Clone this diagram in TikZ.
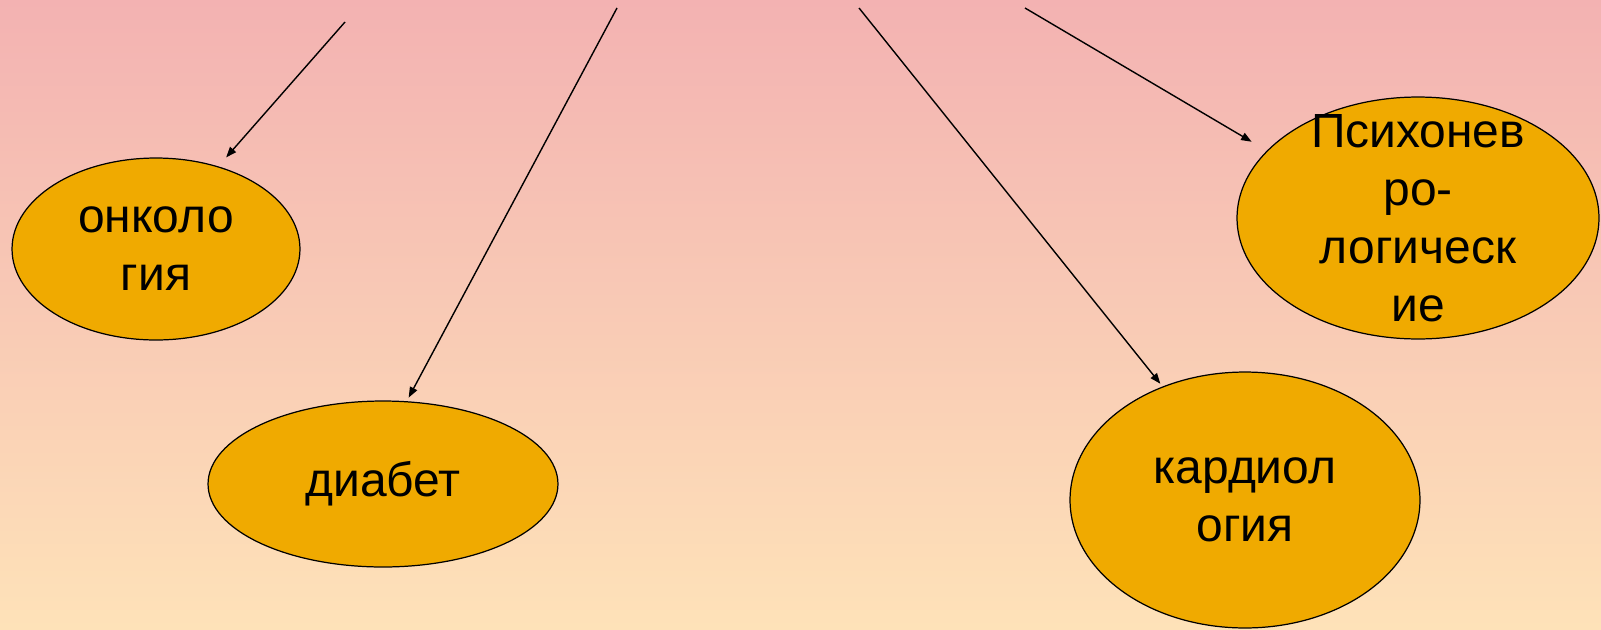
\documentclass[tikz,border=0pt]{standalone}
\usepackage{fontspec}
\setmainfont{Liberation Sans}
\usepackage{tikz}
\usetikzlibrary{
  arrows.meta,
  shapes.geometric,
}
\definecolor{bgPink}{HTML}{F3B2B2}
\definecolor{bgPeach}{HTML}{FEE2B8}
\definecolor{bubbleGold}{HTML}{F0AA00}

\begin{document}
\begin{tikzpicture}[x=0.02cm, y=-0.02cm,
  bubble/.style={ellipse, draw=black, line width=0.7pt, fill=bubbleGold,
    inner sep=0pt, align=center, font=\fontsize{27.3}{33}\selectfont},
  ptr/.style={-{Triangle[length=6pt,width=4.5pt]}, line width=0.8pt}]
  % background
  \shade[top color=bgPink, bottom color=bgPeach] (0,0) rectangle (1601,629);
  % 4 bubbles
  \node[bubble, minimum width=5.76cm, minimum height=3.64cm] (onko)
    at (156,249) {онколо\\гия};
  \node[bubble, minimum width=7cm, minimum height=3.32cm] (diab)
    at (383,484) {диабет};
  \node[bubble, minimum width=7cm, minimum height=5.12cm] (cardio)
    at (1245,500) {кардиол\\огия};
  \node[bubble, minimum width=7.24cm, minimum height=4.84cm, inner ysep=-0.9cm] (psych)
    at (1418,218) {Психонев\\ро-\\логическ\\ие};
  % arrows from the top edge
  \coordinate (t1) at (345,22);
  \coordinate (t2) at (617,8);
  \coordinate (t3) at (859,8);
  \coordinate (t4) at (1025,8);
  \draw[ptr, shorten >=6.8pt] (t1) -- (onko.53);
  \draw[ptr, shorten >=2.3pt] (t2) -- (diab.74);
  \draw[ptr, shorten >=2pt] (t3) -- (cardio.126);
  \draw[ptr, shorten >=10pt] (t4) -- (psych.156);
\end{tikzpicture}
\end{document}
